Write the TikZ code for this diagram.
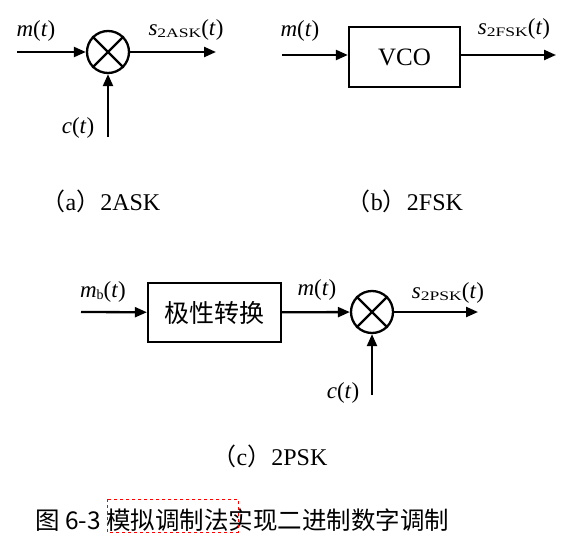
\documentclass[tikz,border=0pt]{standalone}
\usepackage{fontspec}
\setmainfont{Liberation Serif}
\newfontfamily\cjk{Noto Sans CJK SC}
\usetikzlibrary{arrows.meta}

\newcommand{\lowidx}[1]{\raisebox{-1.5pt}{\scalebox{1.35}[1]{\fontsize{13}{13}\selectfont #1}}}

\begin{document}
\begin{tikzpicture}[
x=1pt,y=-1pt,
box/.style={
rectangle,draw,line width=2.3pt,
inner sep=0pt,
minimum width=111pt,
minimum height=60pt
},
mult/.style={
circle,draw,line width=2.3pt,
inner sep=0pt,
minimum size=42pt
},
sig/.style={inner sep=0pt,font=\fontsize{23}{23}\selectfont},
subcap/.style={inner sep=0pt,font=\fontsize{24}{24}\selectfont},
arrow/.style={-{Triangle[length=12pt,width=10pt]}, line width=2.3pt}
]
\useasboundingbox (0,0) rectangle (569,543);

% =======================
% (a) 2ASK
% =======================

\node[mult] (amul) at (108,52) {};
\draw[line width=2.3pt] (amul.45) -- (amul.225) (amul.135) -- (amul.315);

\coordinate (ain) at (17,52);
\coordinate (aout) at (216,52);
\coordinate (acar) at (108,137);

\node[sig] (am) at (36,31) {\textit{m}(\textit{t})};
\node[sig] (as) at (186,30) {\textit{s}\lowidx{2ASK}(\textit{t})};
\node[sig] (ac) at (78,128) {\textit{c}(\textit{t})};

\draw[arrow] (ain) -- (amul);
\draw[arrow] (amul) -- (aout);
\draw[arrow] (acar) -- (amul);

% =======================
% (b) 2FSK
% =======================

\node[box,font=\fontsize{25}{25}\selectfont] (vco) at (404.5,57) {VCO};

\coordinate (bin) at (282,55);
\coordinate (bout) at (556,55);

\node[sig] (bm) at (300,31) {\textit{m}(\textit{t})};
\node[sig] (bs) at (514,29) {\textit{s}\lowidx{2FSK}(\textit{t})};

\draw[arrow] (bin) -- (bin -| vco.west);
\draw[arrow] (bout -| vco.east) -- (bout);

% =======================
% (c) 2PSK
% =======================

\node[box,minimum width=133pt,minimum height=59pt,font=\cjk\fontsize{25}{25}\selectfont] (conv) at (214.5,312.5) {极性转换};
\node[mult] (cmul) at (372,312) {};
\draw[line width=2.3pt] (cmul.45) -- (cmul.225) (cmul.135) -- (cmul.315);

\coordinate (cin) at (81,312);
\coordinate (cout) at (478,312);
\coordinate (ccar) at (372,395);

\node[sig] (cmb) at (103,292) {\textit{m}\raisebox{-1.5pt}{\fontsize{14}{14}\selectfont b}(\textit{t})};
\node[sig] (cm) at (317,290) {\textit{m}(\textit{t})};
\node[sig] (cs) at (448,293) {\textit{s}\lowidx{2PSK}(\textit{t})};
\node[sig] (cc) at (343,393) {\textit{c}(\textit{t})};

\draw[arrow] (cin) -- (conv);
\draw[arrow] (conv) -- (cmul);
\draw[arrow] (cmul) -- (cout);
\draw[arrow] (ccar) -- (cmul);

% =======================
% CAPTIONS
% =======================

\node[subcap] (capa) at (101,201) {{\cjk （}a{\cjk ）}2ASK};
\node[subcap] (capb) at (405,201) {{\cjk （}b{\cjk ）}2FSK};
\node[subcap] (capc) at (270,456) {{\cjk （}c{\cjk ）}2PSK};

\node[inner sep=0pt,anchor=west,font=\cjk\fontsize{24.5}{24.5}\selectfont] (title) at (35,520) {图 6-3 模拟调制法实现二进制数字调制};
\draw[red,dashed,line width=0.8pt] (107,499) rectangle (238,532);

\end{tikzpicture}
\end{document}
